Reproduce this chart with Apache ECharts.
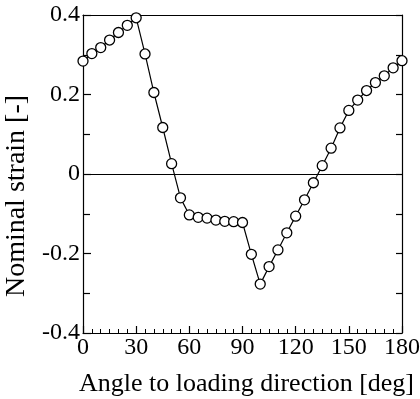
<!DOCTYPE html>
<html>
<head>
<meta charset="utf-8">
<script src="https://cdn.jsdelivr.net/npm/echarts@6/dist/echarts.min.js"></script>
<style>
  html, body { margin: 0; padding: 0; background: #fff; }
  #chart { width: 420px; height: 399px; }
</style>
</head>
<body>
<div id="chart"></div>
<script>
// angle [deg] and nominal strain [-]
const angles = [0, 5, 10, 15, 20, 25, 30, 35, 40, 45, 50, 55, 60, 65, 70, 75, 80, 85, 90,
    95, 100, 105, 110, 115, 120, 125, 130, 135, 140, 145, 150, 155, 160, 165, 170, 175, 180]
const strain = [0.284, 0.303, 0.318, 0.337, 0.356, 0.374, 0.393, 0.302, 0.205, 0.117, 0.026,
    -0.060, -0.103, -0.109, -0.111, -0.116, -0.119, -0.120, -0.122,
    -0.202, -0.277, -0.233, -0.191, -0.148, -0.106, -0.065, -0.022, 0.021,
    0.065, 0.116, 0.160, 0.186, 0.210, 0.230, 0.247, 0.267, 0.285]
const xTicks = [0, 30, 60, 90, 120, 150, 180]
const yTicks = [-0.4, -0.2, 0, 0.2, 0.4]

const font = 'Liberation Serif'
const chart = echarts.init(document.getElementById('chart'))

const lineStyle = {color: '#000', width: 1.2}

chart.setOption({
    animation: false,
    grid: {left: 83, right: 18, top: 15, bottom: 66, containLabel: false, outerBoundsMode: 'none'},
    xAxis: [{
        type: 'value', min: 0, max: 180, interval: 30,
        name: 'Angle to loading direction [deg]',
        nameLocation: 'middle', nameGap: 38,
        nameTextStyle: {fontFamily: font, fontSize: 26, color: '#000', padding: [0, 0, 0, 8]},
        axisLine: {onZero: false, lineStyle: lineStyle},
        axisTick: {inside: true, length: 7, lineStyle: lineStyle},
        minorTick: {show: true, splitNumber: 6, length: 4, lineStyle: {color: '#000', width: 1}},
        splitLine: {show: false},
        axisLabel: {
            fontFamily: font, fontSize: 24, color: '#000', margin: 3,
            formatter: v => xTicks.includes(v) ? String(v) : ''
        }
    }, {
        type: 'value', min: 0, max: 180, position: 'top',
        axisLine: {show: true, onZero: false, lineStyle: lineStyle},
        axisTick: {show: false},
        axisLabel: {show: false},
        splitLine: {show: false}
    }],
    yAxis: [{
        type: 'value', min: -0.4, max: 0.4, interval: 0.2,
        name: 'Nominal strain [-]',
        nameLocation: 'middle', nameGap: 51,
        nameTextStyle: {fontFamily: font, fontSize: 28, color: '#000', padding: [0, 44, 0, 0]},
        axisLine: {onZero: false, lineStyle: lineStyle},
        axisTick: {inside: true, length: 8, lineStyle: lineStyle},
        minorTick: {show: true, splitNumber: 2, length: 7, lineStyle: lineStyle},
        splitLine: {show: false},
        axisLabel: {
            fontFamily: font, fontSize: 24, color: '#000', margin: 3,
            formatter: v => {
                const t = yTicks.find(k => Math.abs(k - v) < 1e-9)
                return t === undefined ? '' : (t === 0 ? '0' : t.toFixed(1))
            }
        }
    }, {
        type: 'value', min: -0.4, max: 0.4, interval: 0.2, position: 'right',
        axisLine: {show: true, onZero: false, lineStyle: lineStyle},
        axisTick: {inside: true, length: 6, lineStyle: lineStyle},
        minorTick: {show: true, splitNumber: 2, length: 6, lineStyle: lineStyle},
        splitLine: {show: false},
        axisLabel: {show: false}
    }],
    series: [{
        type: 'line',
        data: angles.map((a, i) => [a, strain[i]]),
        symbol: 'circle', symbolSize: 10,
        itemStyle: {color: '#fff', borderColor: '#000', borderWidth: 1.3},
        lineStyle: lineStyle,
        markLine: {
            silent: true, symbol: 'none', label: {show: false},
            lineStyle: {color: '#000', width: 1.2, type: 'solid'},
            data: [{yAxis: 0}]
        },
        z: 3
    }]
})
</script>
</body>
</html>
